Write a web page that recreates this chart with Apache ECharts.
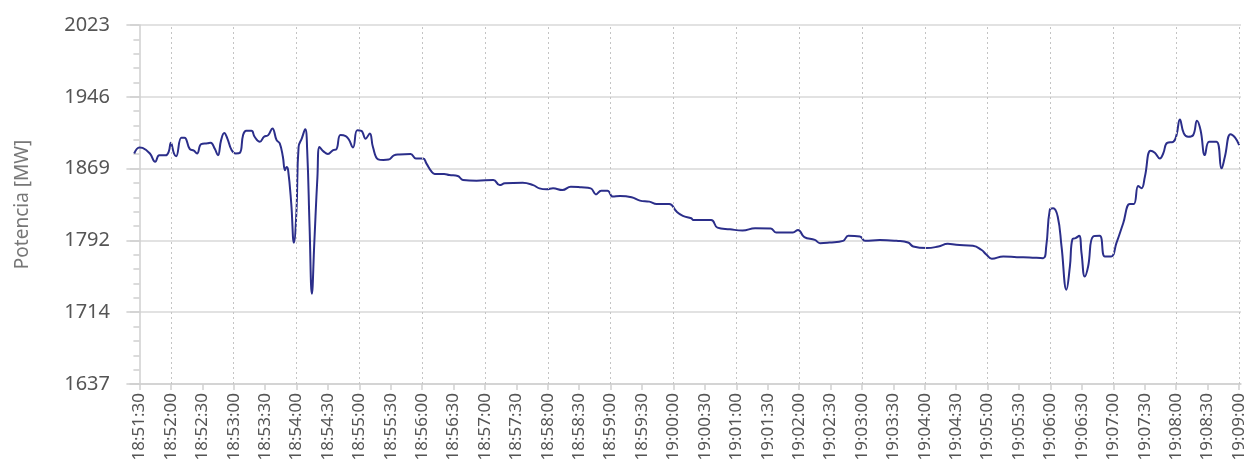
<!DOCTYPE html>
<html>
<head>
<meta charset="utf-8">
<script src="https://cdn.jsdelivr.net/npm/echarts@6/dist/echarts.min.js"></script>
<style>
    html, body { margin: 0; padding: 0; background: #fff; }
    #chart { width: 1249px; height: 466px; }
</style>
</head>
<body>
<div id="chart"></div>
<script>
    // tiempo en segundos desde 18:51:30
    const seconds = [
        -5, 0, 3, 10, 15, 19, 25, 28, 30, 33, 35, 40, 43, 48, 52, 55, 59, 65, 68, 72,
        75, 78, 81, 84, 88, 92, 96, 99, 102, 107, 110, 115, 119, 123, 127, 131, 134, 137, 139, 140.5,
        142, 145, 147.5, 150, 152, 155, 158.3, 160.2, 162.5, 164.7, 167, 170, 172, 176, 180, 185, 188, 192, 197, 200,
        204, 208, 212, 216, 220, 223, 228, 233, 238, 243,
        248, 259, 264, 271, 274, 279, 282, 291, 296, 304, 309, 322, 338, 344, 349, 366, 376, 382, 389, 395,
        404, 412, 422, 431, 436, 441, 447, 452, 459, 470, 478, 487, 494, 506, 513, 519, 527, 529, 546, 552,
        564, 576, 588, 603, 608, 624, 629, 635, 645, 650, 659, 672, 677,
        688, 693, 707, 723, 734, 739, 752, 763, 772, 780, 796, 804, 809, 814, 825, 838, 850, 863, 866, 869.4,
        872.6, 877, 880.6, 885.3, 888.6, 891, 894, 897.4, 899.7, 902.8, 906, 910.8, 917, 922, 928, 933, 939.5, 945.8, 949.7, 953.8,
        957, 960.2, 965.6, 969.7, 974.5, 977.7, 981.5, 987.3, 990.4, 993.6, 997.4, 1001.5, 1006.3, 1010, 1013.4, 1017.5, 1021.6, 1028.6, 1033.4, 1036.6,
        1042, 1046.2, 1050.3
    ]
    const power = [
        1885, 1891.5, 1891, 1885, 1876, 1883, 1883, 1887, 1896.6, 1885, 1882, 1902, 1902, 1890, 1888, 1885, 1895, 1896, 1896.6, 1890,
        1883, 1899.4, 1907, 1901, 1888.7, 1885, 1885.8, 1904.8, 1909.4, 1909.4, 1903, 1897.6, 1903, 1904.8, 1912, 1899.4, 1895.8, 1881.5, 1867, 1870.5,
        1867, 1831, 1789, 1824, 1892, 1901, 1911, 1888.7, 1806, 1734, 1788.5, 1860, 1892, 1887, 1884.4, 1888.7, 1889.4, 1904.8, 1903.7, 1900,
        1891.5, 1910, 1909.4, 1901, 1906.6, 1892, 1878.7, 1878, 1878.5, 1883,
        1884, 1884.4, 1879.7, 1879.7, 1874.4, 1865.4, 1863, 1863, 1861.8, 1860.8, 1856.5, 1855.8, 1856.5, 1851, 1852.9, 1853.6, 1851, 1847.5, 1846.5, 1847.5,
        1845.7, 1849.3, 1848.6, 1847.5, 1841, 1845, 1845, 1838.6, 1839.3, 1837.9, 1834.3, 1833.2, 1830.7, 1830.7, 1822.5, 1817.9, 1815.3, 1813.5, 1813.5, 1805.3,
        1803.5, 1802.1, 1804.6, 1804.3, 1800, 1800, 1802.8, 1795, 1792, 1788.5, 1789.2, 1791, 1796.4,
        1795.7, 1791, 1792, 1791, 1789.2, 1785, 1783.2, 1785, 1787.8, 1786.7, 1785.7, 1781.4, 1776, 1771.7, 1774.2, 1773.5, 1773.1, 1772.4, 1785, 1824.3,
        1826, 1817, 1785, 1738.5, 1763.5, 1792.8, 1793.9, 1796.4, 1777.8, 1752.7, 1763.5, 1795.7, 1796.4, 1774.2, 1774.2, 1788.5, 1810, 1830.7, 1830.7, 1850,
        1847.5, 1860, 1888, 1885.8, 1879.7, 1885, 1896.5, 1897.6, 1904.8, 1921.6, 1906.6, 1903, 1904.8, 1920.2, 1910, 1883.3, 1897.6, 1897.6, 1869, 1881.5,
        1905.8, 1902.3, 1894
    ]
    const tickLabels = [
        '18:51:30', '18:52:00', '18:52:30', '18:53:00', '18:53:30', '18:54:00', '18:54:30', '18:55:00', '18:55:30',
        '18:56:00', '18:56:30', '18:57:00', '18:57:30', '18:58:00', '18:58:30', '18:59:00', '18:59:30', '19:00:00',
        '19:00:30', '19:01:00', '19:01:30', '19:02:00', '19:02:30', '19:03:00', '19:03:30', '19:04:00', '19:04:30',
        '19:05:00', '19:05:30', '19:06:00', '19:06:30', '19:07:00', '19:07:30', '19:08:00', '19:08:30', '19:09:00'
    ]
    const yMin = 1637
    const yStep = 77.25

    const tickSeconds = tickLabels.map((_, i) => i * 30)
    const minuteSeconds = tickSeconds.filter((s, i) => tickLabels[i].endsWith(':00'))

    const myChart = echarts.init(document.getElementById('chart'))
    const axisGrey = '#cfcfcf'

    const option = {
        animation: false,
        grid: { left: 130, right: 8, top: 25, bottom: 82 },
        xAxis: {
            type: 'value',
            min: -9,
            max: 1052,
            axisLine: { show: true, onZero: false, lineStyle: { color: axisGrey, width: 1.5 } },
            axisTick: { show: true, customValues: tickSeconds, length: 6, lineStyle: { color: axisGrey, width: 1.5 } },
            axisLabel: {
                customValues: tickSeconds,
                formatter: v => tickLabels[Math.round(v / 30)],
                rotate: 90,
                margin: 9,
                fontSize: 17,
                fontFamily: 'Noto Sans',
                color: '#555'
            },
            splitLine: { show: false }
        },
        yAxis: {
            type: 'value',
            min: yMin,
            max: yMin + 5 * yStep,
            interval: yStep,
            name: 'Potencia [MW]',
            nameLocation: 'middle',
            nameGap: 98,
            nameTextStyle: { fontSize: 19, fontFamily: 'Noto Sans', color: '#777' },
            axisLine: { show: true, lineStyle: { color: axisGrey, width: 1.5 } },
            axisTick: { show: true, length: 13, lineStyle: { color: axisGrey, width: 1.5 } },
            minorTick: { show: true, splitNumber: 5, length: 6, lineStyle: { color: axisGrey, width: 1.5 } },
            axisLabel: {
                formatter: v => Math.round(v),
                margin: 20,
                fontSize: 20,
                fontFamily: 'Noto Sans',
                color: '#555'
            },
            splitLine: { show: true, lineStyle: { color: '#d9d9d9', width: 1.5 } }
        },
        series: [
            {
                // lineas verticales punteadas en cada minuto
                type: 'line',
                data: [],
                z: 1,
                markLine: {
                    silent: true,
                    symbol: 'none',
                    label: { show: false },
                    lineStyle: { color: '#c4c4c4', type: [2, 3], width: 1 },
                    data: minuteSeconds.map(s => ({ xAxis: s }))
                }
            },
            {
                type: 'line',
                data: seconds.map((s, i) => [s, power[i]]),
                showSymbol: false,
                smooth: 0.45,
                z: 3,
                lineStyle: { color: '#2b2e8a', width: 2 }
            }
        ]
    }

    myChart.setOption(option)
</script>
</body>
</html>
